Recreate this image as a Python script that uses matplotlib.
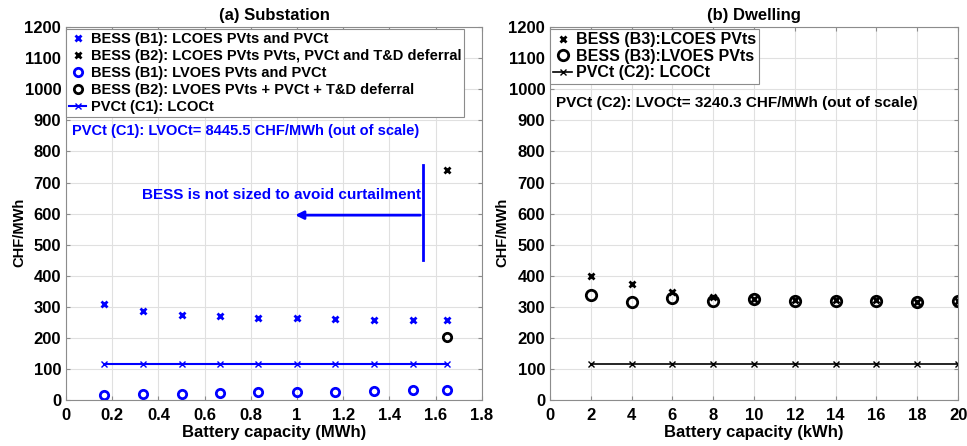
import numpy as np
import matplotlib.pyplot as plt

plt.rcParams['font.family'] = ['Liberation Sans', 'DejaVu Sans']
plt.rcParams['font.weight'] = 'bold'

# (a) Substation data
cap_sub_mwh = [0.166, 0.333, 0.5, 0.666, 0.833, 1.0, 1.166, 1.333, 1.5, 1.65]
lcoes_b1 = [308, 285, 274, 269, 265, 263, 260, 258, 257, 257]
lvoes_b1 = [15, 18, 20, 23, 25, 26, 27, 29, 31, 32]
lcoct_c1 = [117, 117, 117, 117, 117, 117, 117, 117, 117, 117]
cap_b2_mwh = [1.65]
lcoes_b2 = [740]
lvoes_b2 = [202]

# (b) Dwelling data
cap_dw_kwh = [2, 4, 6, 8, 10, 12, 14, 16, 18, 20]
lcoes_b3 = [398, 374, 349, 332, 326, 321, 321, 322, 317, 319]
lvoes_b3 = [337, 317, 327, 318, 324, 319, 319, 320, 316, 318]
lcoct_c2 = [117, 117, 117, 117, 117, 117, 117, 117, 117, 117]

SMALL_SIZE = 10.5
MEDIUM_SIZE = 12

fig = plt.figure(figsize=(9.67, 4.46), dpi=100)
ax_1 = fig.add_axes([0.0683, 0.1031, 0.430, 0.836])
ax_2 = fig.add_axes([0.5688, 0.1031, 0.422, 0.836])

blue = (0, 0, 1)
grid_col = (0.88, 0.88, 0.88)
spine_col = (0.55, 0.55, 0.55)


def style_axes(ax):
    ax.grid(True, color=grid_col, linewidth=0.8)
    ax.set_axisbelow(True)
    for s in ax.spines.values():
        s.set_color(spine_col)
        s.set_linewidth(0.8)
    ax.tick_params(direction='in', top=True, right=True, length=3,
                   color=spine_col, labelsize=MEDIUM_SIZE)
    ax.tick_params(axis='x', pad=6)
    for lab in ax.get_xticklabels() + ax.get_yticklabels():
        lab.set_fontweight('bold')


# Left panel:
ax_1.plot(cap_sub_mwh, lcoes_b1, linestyle='none', marker='x', color=blue,
          markersize=4, markeredgewidth=2, label='BESS (B1): LCOES PVts and PVCt')
ax_1.plot(cap_b2_mwh, lcoes_b2, linestyle='none', marker='x', color='k',
          markersize=4, markeredgewidth=2,
          label='BESS (B2): LCOES PVts PVts, PVCt and T&D deferral')
ax_1.plot(cap_sub_mwh, lvoes_b1, linestyle='none', marker='o', color=blue,
          markerfacecolor='none', markersize=6, markeredgewidth=2,
          label='BESS (B1): LVOES PVts and PVCt')
ax_1.plot(cap_b2_mwh, lvoes_b2, linestyle='none', marker='o', color='k',
          markerfacecolor='none', markersize=6, markeredgewidth=2,
          label='BESS (B2): LVOES PVts + PVCt + T&D deferral')
ax_1.plot(cap_sub_mwh, lcoct_c1, linestyle='-', marker='x', color=blue,
          markersize=5, linewidth=1.5, label='PVCt (C1): LCOCt')

ax_1.set_xlim(0, 1.8)
ax_1.set_ylim(0, 1200)
ax_1.set_xticks(np.arange(0, 1.81, 0.2))
ax_1.set_xticklabels(['0', '0.2', '0.4', '0.6', '0.8', '1', '1.2', '1.4', '1.6', '1.8'])
ax_1.set_yticks(np.arange(0, 1201, 100))
ax_1.set_xlabel('Battery capacity (MWh)', fontsize=MEDIUM_SIZE, fontweight='bold', labelpad=1)
ax_1.set_ylabel('CHF/MWh', fontsize=10.5, fontweight='bold')
ax_1.yaxis.set_label_coords(-0.095, 0.45)
ax_1.set_title('(a) Substation', fontsize=MEDIUM_SIZE, fontweight='bold', pad=5)
style_axes(ax_1)

leg_1 = ax_1.legend(loc='upper left', bbox_to_anchor=(0.0, 0.995),
                    numpoints=1, handlelength=1.2, handletextpad=0.3, labelspacing=0.2,
                    borderpad=0.2, borderaxespad=0.0, fancybox=False, framealpha=1,
                    edgecolor=spine_col, prop={'weight': 'bold', 'size': SMALL_SIZE})
leg_1.get_frame().set_linewidth(0.8)

ax_1.text(0.025, 865, 'PVCt (C1): LVOCt= 8445.5 CHF/MWh (out of scale)',
          color=blue, fontsize=SMALL_SIZE, fontweight='bold', va='center')

# Curtailment annotation:
ax_1.plot([1.546, 1.546], [450, 756], color=blue, linewidth=2)
ax_1.annotate('', xy=(0.98, 595), xytext=(1.546, 595),
              arrowprops=dict(arrowstyle='-|>', color=blue, lw=2, mutation_scale=12))
ax_1.text(1.535, 660, 'BESS is not sized to avoid curtailment', color=blue,
          fontsize=11, fontweight='bold', ha='right', va='center')

# Right panel:
ax_2.plot(cap_dw_kwh, lcoes_b3, linestyle='none', marker='x', color='k',
          markersize=5, markeredgewidth=2, label='BESS (B3):LCOES PVts')
ax_2.plot(cap_dw_kwh, lvoes_b3, linestyle='none', marker='o', color='k',
          markerfacecolor='none', markersize=7.5, markeredgewidth=2,
          label='BESS (B3):LVOES PVts')
ax_2.plot(cap_dw_kwh, lcoct_c2, linestyle='-', marker='x', color='k',
          markersize=5, linewidth=1.2, label='PVCt (C2): LCOCt')

ax_2.set_xlim(0, 20)
ax_2.set_ylim(0, 1200)
ax_2.set_xticks(np.arange(0, 21, 2))
ax_2.set_yticks(np.arange(0, 1201, 100))
ax_2.set_xlabel('Battery capacity (kWh)', fontsize=MEDIUM_SIZE, fontweight='bold', labelpad=1)
ax_2.set_ylabel('CHF/MWh', fontsize=10.5, fontweight='bold')
ax_2.yaxis.set_label_coords(-0.1, 0.45)
ax_2.set_title('(b) Dwelling', fontsize=MEDIUM_SIZE, fontweight='bold', pad=5)
style_axes(ax_2)

leg_2 = ax_2.legend(loc='upper left', bbox_to_anchor=(0.0, 0.995),
                    numpoints=1, handlelength=1.2, handletextpad=0.2, labelspacing=0.1,
                    borderpad=0.2, borderaxespad=0.0, fancybox=False, framealpha=1,
                    edgecolor=spine_col, prop={'weight': 'bold', 'size': 11.5})
leg_2.get_frame().set_linewidth(0.8)

ax_2.text(0.3, 955, 'PVCt (C2): LVOCt= 3240.3 CHF/MWh (out of scale)',
          color='k', fontsize=11, fontweight='bold', va='center')

fig.savefig('out.png', dpi=100)
